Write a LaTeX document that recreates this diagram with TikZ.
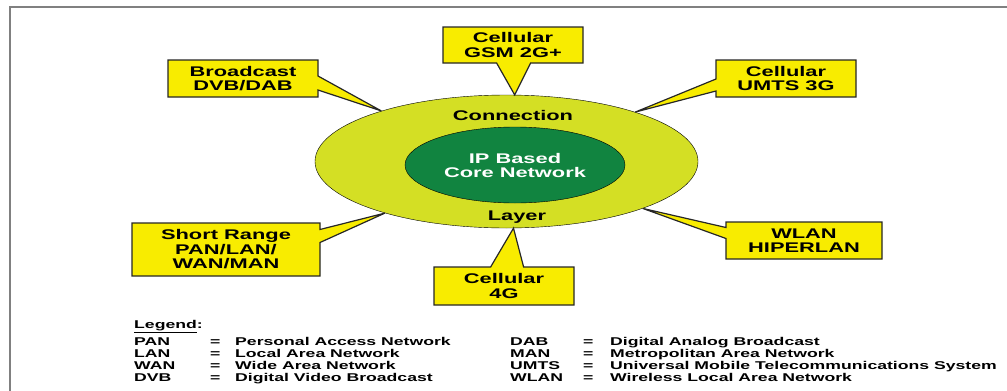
\documentclass[tikz,border=0pt]{standalone}
\usepackage{fontspec}
\setmainfont{Liberation Sans}
\newfontfamily\wideface[FakeStretch=1.56]{Liberation Sans}
\usetikzlibrary{positioning}
\usetikzlibrary{shapes}
\usepackage{xcolor}
\definecolor{boxyellow}{RGB}{248,236,0}
\definecolor{ringgreen}{RGB}{212,223,36}
\definecolor{coregreen}{RGB}{17,132,64}
\definecolor{framegray}{RGB}{128,128,128}

\begin{document}
\begin{tikzpicture}[x=1pt, y=-1pt,
    callbox/.style={rectangle callout, draw=black!85, line width=1.2pt, fill=boxyellow, align=center, inner sep=0pt,
        font={\wideface\bfseries\fontsize{14}{14.5}\selectfont}},
    ringtext/.style={inner sep=0pt, align=center, font={\wideface\bfseries\fontsize{14}{14}\selectfont}},
    legendtext/.style={inner sep=0pt, anchor=west, font={\wideface\bfseries\fontsize{11.3}{12}\selectfont}}]
    \useasboundingbox (0,0) rectangle (1007,391);
    \draw [framegray, line width=2pt] (1007,7) -- (10,7) -- (10,391);

    \node [ellipse, draw, fill=ringgreen, minimum width=383pt, minimum height=133pt] (ring) at (506.5,161.5) {};
    \node [ellipse, draw, fill=coregreen, minimum width=220pt, minimum height=76pt, ringtext, text=white] (core) at (515,165) {IP Based \\ Core Network};
    \node [ringtext] (conn) at (513,115) {Connection};
    \node [ringtext] (layer) at (517,217) {Layer};

    \node [callbox, minimum width=150pt, minimum height=37pt, callout absolute pointer={(ring.158)}, callout pointer width=14pt] (bcast) at (243,78.5) {Broadcast \\ DVB/DAB};
    \node [callbox, minimum width=140pt, minimum height=36pt, callout absolute pointer={(ring.83)}, callout pointer width=34pt] (gsm) at (513,45) {Cellular \\ GSM 2G+};
    \node [callbox, minimum width=140pt, minimum height=37pt, callout absolute pointer={(ring.21)}, callout pointer width=12pt] (umts) at (786,78.5) {Cellular \\ UMTS 3G};
    \node [callbox, minimum width=188pt, minimum height=53pt, callout absolute pointer={(ring.203)}, callout pointer width=13pt] (short) at (226,249.5) {Short Range \\ PAN/LAN/ \\ WAN/MAN};
    \node [callbox, minimum width=140pt, minimum height=38pt, callout absolute pointer={(ring.276)}, callout pointer width=33pt] (fourg) at (504,286) {Cellular \\ 4G};
    \node [callbox, minimum width=156pt, minimum height=37pt, callout absolute pointer={(ring.341)}, callout pointer width=11pt] (wlan) at (804,240.5) {WLAN \\ HIPERLAN};

    % legend
    \node [legendtext] (leghead) at (134,327) {\underline{Legend}:};
    \node [legendtext] (legend) at (134,361.5) {\setlength{\tabcolsep}{0pt}%
        \begin{tabular}{p{76pt}p{25pt}p{275pt}p{73pt}p{27pt}l}
        PAN & = & Personal Access Network & DAB & = & Digital Analog Broadcast \\
        LAN & = & Local Area Network & MAN & = & Metropolitan Area Network \\
        WAN & = & Wide Area Network & UMTS & = & Universal Mobile Telecommunications System \\
        DVB & = & Digital Video Broadcast & WLAN & = & Wireless Local Area Network
        \end{tabular}};
\end{tikzpicture}
\end{document}
